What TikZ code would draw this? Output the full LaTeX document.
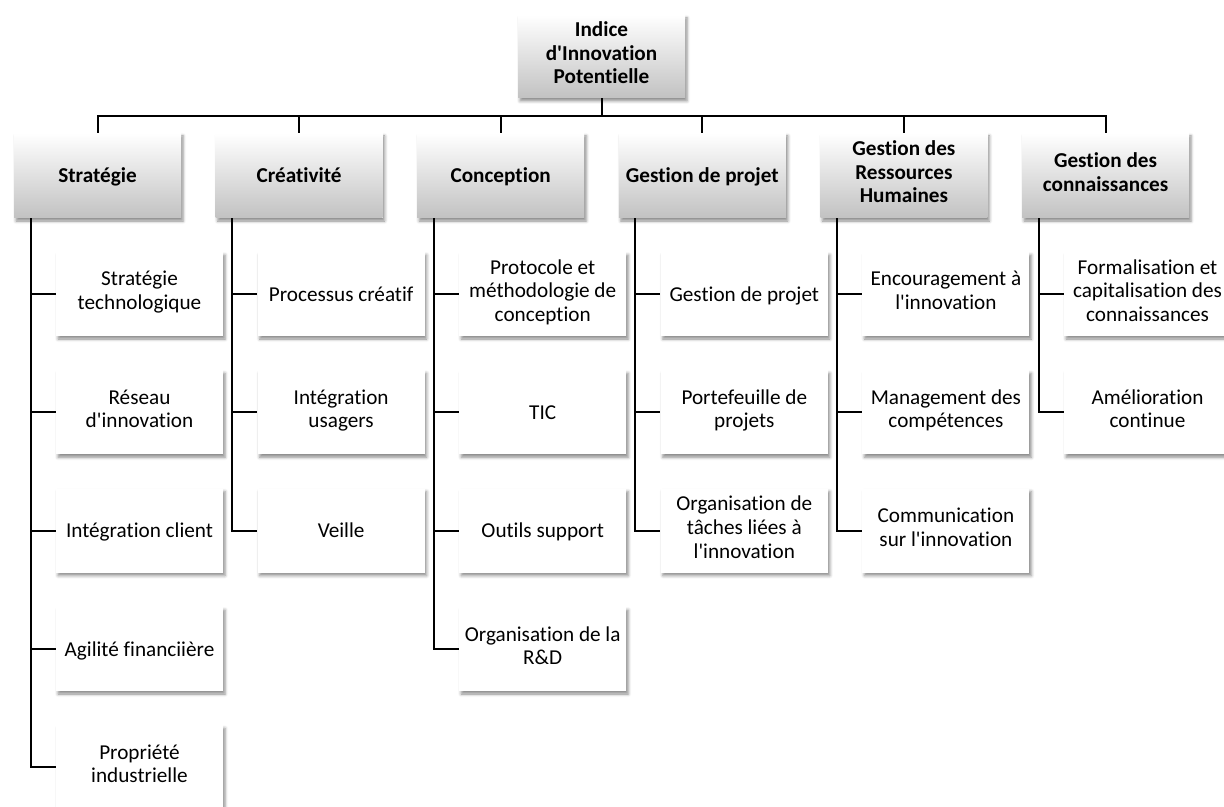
\documentclass[tikz,border=0pt]{standalone}
\usepackage{fontspec}
\setmainfont{Carlito}[Ligatures={TeXOff,NoCommon}]
\usetikzlibrary{shadows.blur}
\begin{document}
\begin{tikzpicture}[x=0.5pt,y=-0.5pt,
  box/.style={fill=white,minimum width=83.5pt,minimum height=42pt,align=center,inner sep=1pt,
    font=\fontsize{10.6}{11.8}\selectfont,
    execute at begin node=\rule{0pt}{10.8pt},execute at end node=\strut,
    blur shadow={shadow xshift=1pt,shadow yshift=-1.5pt,shadow blur radius=1.5pt,shadow opacity=45}},
  head/.style={box,top color=white,bottom color=black!24,minimum height=42.5pt,
    font=\fontsize{10.6}{11.8}\selectfont\bfseries},
  link/.style={line width=1pt,black}]
\useasboundingbox (0,0) rectangle (1224,807);

\node[head,minimum height=41.5pt] at (601.5,56.5) (top) {Indice\\d'Innovation\\Potentielle};

\node[head] at (97.5,175.5) (strat) {Strat\'egie};
\node[head] at (299.1,175.5) (crea) {Cr\'eativit\'e};
\node[head] at (500.7,175.5) (conc) {Conception};
\node[head] at (702.3,175.5) (gp) {Gestion de projet};
\node[head] at (903.9,175.5) (grh) {Gestion des\\Ressources\\Humaines};
\node[head] at (1105.5,175.5) (gc) {Gestion des\\connaissances};

% Strategie
\node[box] at (139.5,294) (strat1) {Strat\'egie\\technologique};
\node[box] at (139.5,412.3) (strat2) {R\'eseau\\d'innovation};
\node[box] at (139.5,530.6) (strat3) {Int\'egration client};
\node[box] at (139.5,649) (strat4) {Agilit\'e financii\`ere};
\node[box] at (139.5,767.3) (strat5) {Propri\'et\'e\\industrielle};
% Creativite
\node[box] at (341.1,294) (crea1) {Processus cr\'eatif};
\node[box] at (341.1,412.3) (crea2) {Int\'egration\\usagers};
\node[box] at (341.1,530.6) (crea3) {Veille};
% Conception
\node[box] at (542.7,294) (conc1) {Protocole et\\m\'ethodologie de\\conception};
\node[box] at (542.7,412.3) (conc2) {TIC};
\node[box] at (542.7,530.6) (conc3) {Outils support};
\node[box] at (542.7,649) (conc4) {Organisation de la\\R\&D};
% Gestion de projet
\node[box] at (744.3,294) (gp1) {Gestion de projet};
\node[box] at (744.3,412.3) (gp2) {Portefeuille de\\projets};
\node[box] at (744.3,530.6) (gp3) {Organisation de\\t\^aches li\'ees \`a\\l'innovation};
% GRH
\node[box] at (945.9,294) (grh1) {Encouragement \`a\\l'innovation};
\node[box] at (945.9,412.3) (grh2) {Management des\\comp\'etences};
\node[box] at (945.9,530.6) (grh3) {Communication\\sur l'innovation};
% Connaissances
\node[box] at (1147.5,294) (gc1) {Formalisation et\\capitalisation des\\connaissances};
\node[box] at (1147.5,412.3) (gc2) {Am\'elioration\\continue};

\foreach \c in {strat,crea,conc,gp,grh,gc}
  \draw[link] (top.south) -- ++(0,18) -| (\c.north);

\foreach \c/\n in {strat/5,crea/3,conc/4,gp/3,grh/3,gc/2}
  \foreach \i in {1,...,\n}
    \draw[link] ([xshift=8.5pt]\c.south west) |- (\c\i.west);
\end{tikzpicture}
\end{document}
